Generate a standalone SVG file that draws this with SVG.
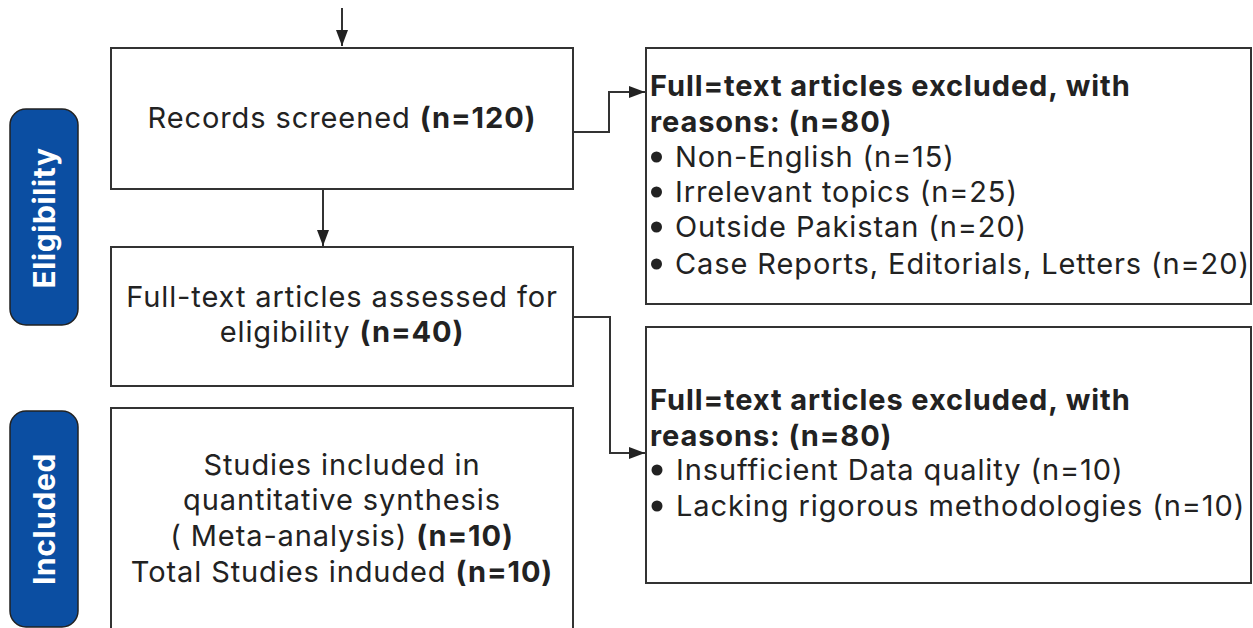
<svg xmlns="http://www.w3.org/2000/svg" width="1253" height="628" viewBox="0 0 1253 628">
<style>
.box{fill:#fff;stroke:#333;stroke-width:2}
.pill{fill:#0b4ea2;stroke:#222;stroke-width:1.5}
.t{font-family:Inter,"Liberation Sans",sans-serif;font-size:29px;letter-spacing:0.9px;fill:#222}
.c{text-anchor:middle}
.b{font-weight:bold}
.pt{font-family:Inter,"Open Sans","Liberation Sans",sans-serif;font-size:30px;letter-spacing:0.6px;font-weight:bold;fill:#fff;text-anchor:middle;dominant-baseline:central}
.ln{fill:none;stroke:#333;stroke-width:2}
</style>
<defs>
<marker id="ah2" viewBox="0 0 16 12" refX="16" refY="6" markerWidth="16" markerHeight="12" markerUnits="userSpaceOnUse" orient="auto">
<path d="M0,0 L16,6 L0,12 z" fill="#222"/>
</marker>
</defs>
<rect width="1253" height="628" fill="#fff"/>
<g id="connectors">
<path class="ln" d="M342,8 V46" marker-end="url(#ah2)"/>
<path class="ln" d="M323,189 V246" marker-end="url(#ah2)"/>
<path class="ln" d="M573,132 H609 V92 H645" marker-end="url(#ah2)"/>
<path class="ln" d="M573,317 H610 V453 H645" marker-end="url(#ah2)"/>
</g>
<g id="eligibility-label">
<rect class="pill" x="10" y="109" width="68" height="216" rx="16"/>
<text class="pt" transform="translate(44,218) rotate(-90)">Eligibility</text>
</g>
<g id="included-label">
<rect class="pill" x="10" y="411" width="68" height="216" rx="16"/>
<text class="pt" transform="translate(44,519) rotate(-90)">Included</text>
</g>
<g id="records-screened">
<rect class="box" x="111" y="48" width="462" height="141"/>
<text class="t c" x="342" y="128">Records screened <tspan class="b">(n=120)</tspan></text>
</g>
<g id="fulltext-assessed">
<rect class="box" x="111" y="247" width="462" height="139"/>
<text class="t c" x="342" y="307">Full-text articles assessed for</text>
<text class="t c" x="342" y="342">eligibility <tspan class="b">(n=40)</tspan></text>
</g>
<g id="studies-included">
<rect class="box" x="111" y="408" width="462" height="230"/>
<text class="t c" x="342" y="475">Studies included in</text>
<text class="t c" x="342" y="510">quantitative synthesis</text>
<text class="t c" x="342" y="546">( Meta-analysis) <tspan class="b">(n=10)</tspan></text>
<text class="t c" x="342" y="582">Total Studies induded <tspan class="b">(n=10)</tspan></text>
</g>
<g id="excluded-1">
<rect class="box" x="646" y="48" width="605" height="256"/>
<text class="t b" x="650" y="96">Full=text articles excluded, with</text>
<text class="t b" x="650" y="132">reasons: (n=80)</text>
<circle cx="656.5" cy="157" r="5.5" fill="#222"/>
<text class="t" x="675" y="167">Non-English (n=15)</text>
<circle cx="656.5" cy="192" r="5.5" fill="#222"/>
<text class="t" x="675" y="202">Irrelevant topics (n=25)</text>
<circle cx="656.5" cy="227" r="5.5" fill="#222"/>
<text class="t" x="675" y="237">Outside Pakistan (n=20)</text>
<circle cx="656.5" cy="264" r="5.5" fill="#222"/>
<text class="t" x="675" y="274">Case Reports, Editorials, Letters (n=20)</text>
</g>
<g id="excluded-2">
<rect class="box" x="646" y="327" width="605" height="256"/>
<text class="t b" x="650" y="410">Full=text articles excluded, with</text>
<text class="t b" x="650" y="446">reasons: (n=80)</text>
<circle cx="657" cy="470" r="5.5" fill="#222"/>
<text class="t" x="676" y="480">Insufficient Data quality (n=10)</text>
<circle cx="657" cy="506" r="5.5" fill="#222"/>
<text class="t" x="676" y="516">Lacking rigorous methodologies (n=10)</text>
</g>
</svg>
